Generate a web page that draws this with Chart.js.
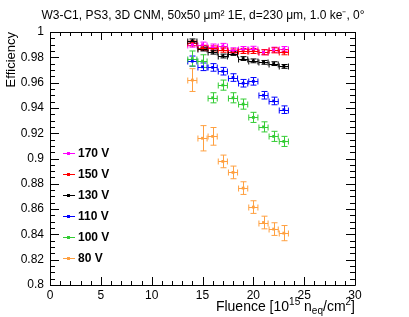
<!DOCTYPE html>
<html><head><meta charset="utf-8">
<script src="https://cdn.jsdelivr.net/npm/chart.js@4"></script>
<style>html,body{margin:0;padding:0;background:#fff}#w{width:409px;height:317px;position:relative}</style>
</head><body><div id="w"><canvas id="c" width="409" height="317"></canvas></div>
<script>
const titleText = 'W3-C1, PS3, 3D CNM, 50x50 \u03bcm\u00b2 1E, d=230 \u03bcm, 1.0 ke\u207b, 0\u00b0';
const fluence = [14, 15, 16, 17, 18, 19, 20, 21, 22, 23];
const fluenceErr = [0.45, 0.45, 0.45, 0.45, 0.45, 0.45, 0.45, 0.45, 0.45, 0.45];
const seriesLabels = ['170 V', '150 V', '130 V', '110 V', '100 V', '80 V'];
const eff170 = [0.990, 0.990, 0.9885, 0.989, 0.9855, 0.9865, 0.9867, 0.9840, 0.9860, 0.9865];
const err170 = [0.002, 0.002, 0.002, 0.002, 0.002, 0.002, 0.002, 0.002, 0.002, 0.002];
const eff150 = [0.991, 0.9875, 0.987, 0.986, 0.9845, 0.985, 0.985, 0.984, 0.9855, 0.984];
const err150 = [0.002, 0.002, 0.002, 0.002, 0.002, 0.002, 0.002, 0.002, 0.002, 0.002];
const eff130 = [0.993, 0.9865, 0.984, 0.981, 0.983, 0.979, 0.9772, 0.976, 0.975, 0.9728];
const err130 = [0.0015, 0.0015, 0.0015, 0.0015, 0.0015, 0.0015, 0.0015, 0.0015, 0.0015, 0.0015];
const eff110 = [0.977, 0.9725, 0.972, 0.969, 0.964, 0.9595, 0.961, 0.950, 0.9455, 0.9386];
const err110 = [0.004, 0.003, 0.003, 0.003, 0.003, 0.003, 0.003, 0.003, 0.003, 0.003];
const eff100 = [0.979, 0.977, 0.948, 0.958, 0.948, 0.943, 0.9325, 0.925, 0.9175, 0.9135];
const err100 = [0.006, 0.005, 0.004, 0.004, 0.004, 0.004, 0.004, 0.004, 0.004, 0.004];
const eff80 = [0.962, 0.916, 0.9175, 0.8977, 0.889, 0.8766, 0.8616, 0.8494, 0.8442, 0.841];
const err80 = [0.009, 0.010, 0.007, 0.005, 0.005, 0.005, 0.005, 0.005, 0.005, 0.006];
const yTicks = [0.8, 0.82, 0.84, 0.86, 0.88, 0.9, 0.92, 0.94, 0.96, 0.98, 1];
const xTicks = [0, 5, 10, 15, 20, 25, 30];

const colors = ['#ff00ff', '#ff0000', '#000000', '#0000ff', '#33cc33', '#ffa040'];
const effs = [eff170, eff150, eff130, eff110, eff100, eff80];
const errs = [err170, err150, err130, err110, err100, err80];

const datasets = seriesLabels.map((lab, i) => ({
  label: lab,
  data: fluence.map((x, j) => ({x: x, y: effs[i][j], xe: fluenceErr[j], ye: errs[i][j]})),
  borderColor: colors[i],
  backgroundColor: colors[i],
  pointStyle: 'rect',
  pointRadius: 2,
  pointBorderWidth: 0,
  showLine: false
}));

const FONT = 'Liberation Sans, Arial, sans-serif';

const rootPlugin = {
  id: 'rootStyle',
  beforeDatasetsDraw(chart) {
    const ctx = chart.ctx, xs = chart.scales.x, ys = chart.scales.y;
    ctx.save();
    ctx.lineWidth = 1;
    chart.data.datasets.forEach(ds => {
      ctx.strokeStyle = ds.borderColor;
      ds.data.forEach(p => {
        const px = Math.round(xs.getPixelForValue(p.x)) + 0.5;
        const py = Math.round(ys.getPixelForValue(p.y)) + 0.5;
        const x0 = xs.getPixelForValue(p.x - p.xe), x1 = xs.getPixelForValue(p.x + p.xe);
        const y0 = ys.getPixelForValue(p.y - p.ye), y1 = ys.getPixelForValue(p.y + p.ye);
        const c = 3;
        ctx.beginPath();
        ctx.moveTo(x0, py); ctx.lineTo(x1, py);
        ctx.moveTo(px, y0); ctx.lineTo(px, y1);
        ctx.moveTo(x0, py - c); ctx.lineTo(x0, py + c);
        ctx.moveTo(x1, py - c); ctx.lineTo(x1, py + c);
        ctx.moveTo(px - c, y0); ctx.lineTo(px + c, y0);
        ctx.moveTo(px - c, y1); ctx.lineTo(px + c, y1);
        ctx.stroke();
      });
    });
    ctx.restore();
  },
  afterDraw(chart) {
    const ctx = chart.ctx, a = chart.chartArea, xs = chart.scales.x, ys = chart.scales.y;
    ctx.save();
    ctx.strokeStyle = '#000';
    ctx.lineWidth = 1;
    ctx.beginPath();
    ctx.rect(Math.round(a.left) + 0.5, Math.round(a.top) + 0.5, Math.round(a.right - a.left), Math.round(a.bottom - a.top));
    ctx.stroke();
    // ticks
    ctx.beginPath();
    for (let v = 0; v <= 30; v += 1) {
      const px = Math.round(xs.getPixelForValue(v)) + 0.5;
      const L = (v % 5 === 0) ? 8 : 4;
      ctx.moveTo(px, a.bottom); ctx.lineTo(px, a.bottom - L);
      ctx.moveTo(px, a.top); ctx.lineTo(px, a.top + L);
    }
    for (let k = 0; k <= 40; k++) {
      const v = 0.8 + k * 0.005;
      const py = Math.round(ys.getPixelForValue(v)) + 0.5;
      const L = (k % 4 === 0) ? 9 : 5;
      ctx.moveTo(a.left, py); ctx.lineTo(a.left + L, py);
      ctx.moveTo(a.right, py); ctx.lineTo(a.right - L, py);
    }
    ctx.stroke();
    // title
    ctx.fillStyle = '#000';
    ctx.font = '12px ' + FONT;
    ctx.textAlign = 'center';
    ctx.textBaseline = 'alphabetic';
    ctx.fillText(titleText, 203, 19);
    // y title
    ctx.save();
    ctx.translate(15, a.top);
    ctx.rotate(-Math.PI / 2);
    ctx.font = '13px ' + FONT;
    ctx.textAlign = 'right';
    ctx.fillText('Efficiency', 0, 0);
    ctx.restore();
    // x title
    const parts = [
      {t: 'Fluence [10', s: 14, dy: 0},
      {t: '15', s: 10, dy: -6},
      {t: ' n', s: 14, dy: 0},
      {t: 'eq', s: 10, dy: 3},
      {t: '/cm', s: 14, dy: 0},
      {t: '2', s: 10, dy: -6},
      {t: ']', s: 14, dy: 0}
    ];
    let w = 0;
    parts.forEach(p => { ctx.font = p.s + 'px ' + FONT; p.w = ctx.measureText(p.t).width; w += p.w; });
    let x = a.right - w;
    ctx.textAlign = 'left';
    parts.forEach(p => { ctx.font = p.s + 'px ' + FONT; ctx.fillText(p.t, x, 311 + p.dy); x += p.w; });
    // legend
    chart.data.datasets.forEach((ds, i) => {
      const ly = 153 + i * 21;
      ctx.strokeStyle = ds.borderColor;
      ctx.fillStyle = ds.borderColor;
      ctx.beginPath();
      ctx.moveTo(63, ly + 0.5); ctx.lineTo(75, ly + 0.5);
      ctx.stroke();
      ctx.fillRect(67, ly - 1, 3, 3);
      ctx.fillStyle = '#000';
      ctx.font = 'bold 12px ' + FONT;
      ctx.textBaseline = 'middle';
      ctx.fillText(ds.label, 78, ly + 1);
    });
    ctx.restore();
  }
};

new Chart(document.getElementById('c'), {
  type: 'scatter',
  data: {datasets: datasets},
  plugins: [rootPlugin],
  options: {
    responsive: false,
    animation: false,
    events: [],
    layout: {padding: {top: 32, right: 54, left: 0, bottom: 0}},
    plugins: {legend: {display: false}, tooltip: {enabled: false}, title: {display: false}},
    scales: {
      x: {
        type: 'linear', min: 0, max: 30,
        afterFit: s => { s.height = 32; },
        afterBuildTicks: s => { s.ticks = xTicks.map(v => ({value: v})); },
        grid: {display: false, drawTicks: false, tickLength: 0}, border: {display: false},
        ticks: {color: '#000', padding: 3, maxRotation: 0, autoSkip: false, font: {family: FONT, size: 12}, callback: v => String(v)}
      },
      y: {
        type: 'linear', min: 0.8, max: 1,
        afterFit: s => { s.width = 50; },
        afterBuildTicks: s => { s.ticks = yTicks.map(v => ({value: v})); },
        grid: {display: false, drawTicks: false, tickLength: 0}, border: {display: false},
        ticks: {color: '#000', padding: 6, autoSkip: false, font: {family: FONT, size: 12}, callback: v => String(Number(v.toFixed(2)))}
      }
    }
  }
});
</script>
</body></html>
